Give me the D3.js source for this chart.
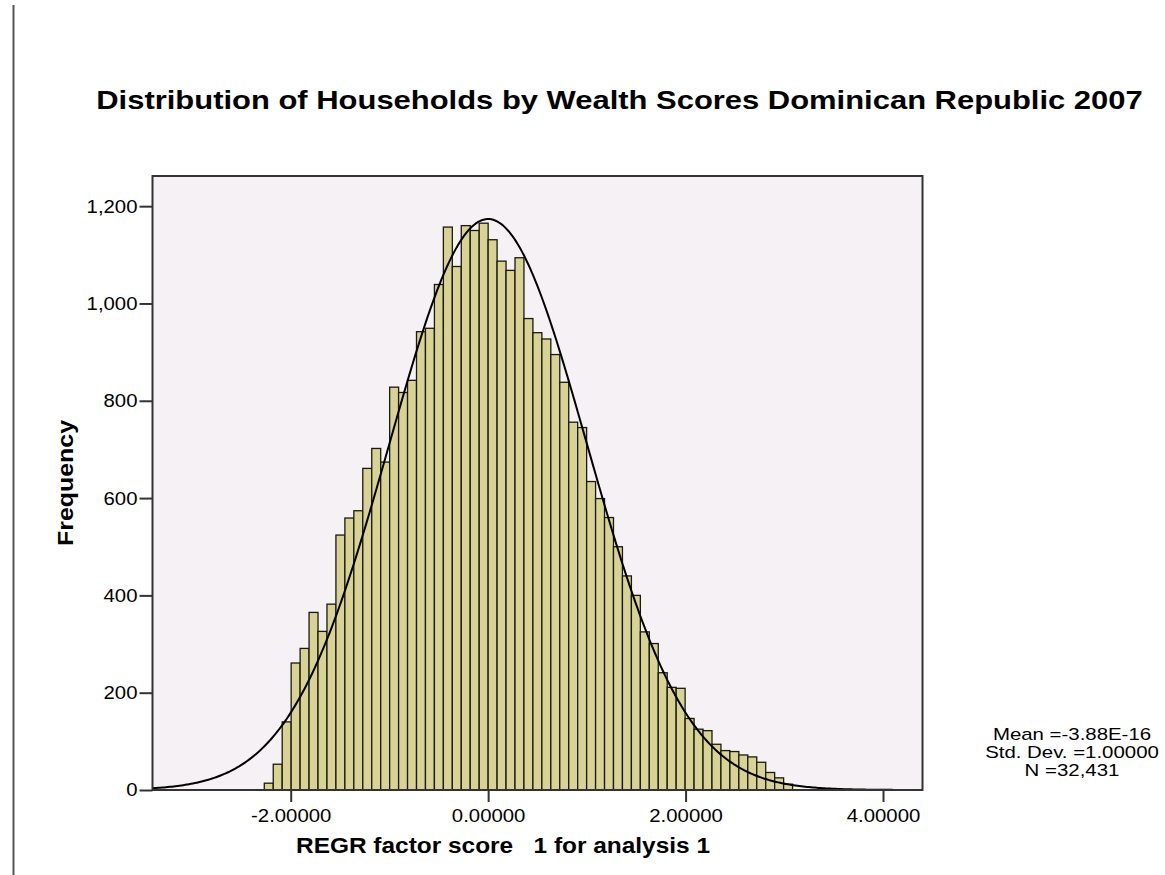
<!DOCTYPE html>
<html>
<head>
<meta charset="utf-8">
<script src="https://cdn.jsdelivr.net/npm/d3@7"></script>
<style>
  html, body { margin: 0; padding: 0; background: #ffffff; }
  svg { display: block; }
  text { font-family: "Liberation Sans", Arial, sans-serif; fill: #000; }
</style>
</head>
<body>
<svg id="chart" width="1165" height="875"></svg>
<script>
// ---- data ----
const binWidth = 0.0907;
const firstBinEdge = -25 * 0.0907;
const counts = [14, 53, 140, 261, 291, 365, 326, 382, 524, 559, 574, 661, 702, 674, 828, 817, 842, 942, 949, 1039, 1157, 1076, 1160, 1150, 1165,
                1131, 1087, 1068, 1094, 969, 940, 927, 895, 838, 756, 745, 634, 599, 560, 500, 440, 400, 325, 301, 241, 211, 209, 147, 125, 122, 94, 81, 79, 72, 68, 57, 36, 25, 12];
const yTicks = [0, 200, 400, 600, 800, 1000, 1200];
const xTicks = [-2, 0, 2, 4];
const statMean = -3.88e-16;
const statSD = 1.0;
const statN = 32431;
const legendLines = ["Mean =-3.88E-16", "Std. Dev. =1.00000", "N =32,431"];
const titleText = "Distribution of Households by Wealth Scores Dominican Republic 2007";
const xTitleText = "REGR factor score   1 for analysis 1";
const yTitleText = "Frequency";

// ---- layout ----
const plot = {left: 152.5, right: 922.5, top: 176, bottom: 790};
const svg = d3.select("#chart");

// widen text horizontally like the reference rendering
function stretch(sel, factor) {
  sel.each(function() {
    const w = this.getComputedTextLength();
    d3.select(this).attr("textLength", w * factor).attr("lengthAdjust", "spacingAndGlyphs");
  });
}

const x = d3.scaleLinear().domain([-3.4, 4.4]).range([plot.left, plot.right]);
const y = d3.scaleLinear().domain([0, 1262]).range([plot.bottom, plot.top]);

// left page rule
svg.append("line").attr("x1", 13.5).attr("x2", 13.5).attr("y1", 5).attr("y2", 875)
  .attr("stroke", "#555").attr("stroke-width", 2);

// title
const title = svg.append("text").attr("x", 619.5).attr("y", 109).attr("text-anchor", "middle")
  .style("font-weight", "bold").style("font-size", "26px").text(titleText);
stretch(title, 1.19);

// plot background
svg.append("rect").attr("x", plot.left).attr("y", plot.top)
  .attr("width", plot.right - plot.left).attr("height", plot.bottom - plot.top)
  .attr("fill", "#f5f1f5");

const bins = counts.map((c, i) => ({x0: firstBinEdge + i * binWidth, x1: firstBinEdge + (i + 1) * binWidth, c}));

svg.append("g").selectAll("rect").data(bins).join("rect")
  .attr("x", d => x(d.x0))
  .attr("width", d => x(d.x1) - x(d.x0))
  .attr("y", d => y(d.c))
  .attr("height", d => y(0) - y(d.c))
  .attr("fill", "#d8d294")
  .attr("stroke", "#1a1a10")
  .attr("stroke-width", 1.3);

// normal curve
const clipId = "plotclip";
svg.append("clipPath").attr("id", clipId).append("rect")
  .attr("x", plot.left).attr("y", plot.top)
  .attr("width", plot.right - plot.left).attr("height", plot.bottom - plot.top);
const pts = d3.range(0, 401).map(i => -3.4 + i * 7.8 / 400);
const dens = v => statN * binWidth / (statSD * Math.sqrt(2 * Math.PI)) * Math.exp(-0.5 * Math.pow((v - statMean) / statSD, 2));
svg.append("path").datum(pts)
  .attr("clip-path", `url(#${clipId})`)
  .attr("fill", "none").attr("stroke", "#000").attr("stroke-width", 2)
  .attr("d", d3.line().x(v => x(v)).y(v => y(dens(v))));

// frame
svg.append("rect").attr("x", plot.left).attr("y", plot.top)
  .attr("width", plot.right - plot.left).attr("height", plot.bottom - plot.top)
  .attr("fill", "none").attr("stroke", "#333").attr("stroke-width", 2);

// axes
const yAxis = d3.axisLeft(y).tickValues(yTicks).tickFormat(d3.format(",")).tickSize(13).tickPadding(2);
const gy = svg.append("g").attr("transform", `translate(${plot.left},0)`).call(yAxis);
const xAxis = d3.axisBottom(x).tickValues(xTicks)
  .tickFormat(d => d3.format(".5f")(d).replace("\u2212", "-")).tickSize(12).tickPadding(6.5);
const gx = svg.append("g").attr("transform", `translate(0,${plot.bottom})`).call(xAxis);
[gx, gy].forEach(g => {
  g.select(".domain").remove();
  g.selectAll(".tick line").attr("stroke", "#333").attr("stroke-width", 2);
  g.selectAll(".tick text").style("font-size", "18.5px").style("font-family", "'Liberation Sans', Arial, sans-serif").attr("fill", "#000");
  stretch(g.selectAll(".tick text"), 1.1);
});

// axis titles
const xt = svg.append("text").attr("x", 503).attr("y", 853).attr("text-anchor", "middle")
  .attr("xml:space", "preserve").style("white-space", "pre")
  .style("font-weight", "bold").style("font-size", "22px").text(xTitleText);
xt.attr("textLength", 414).attr("lengthAdjust", "spacingAndGlyphs");
const yt = svg.append("text").attr("transform", "translate(73,483) rotate(-90)").attr("text-anchor", "middle")
  .style("font-weight", "bold").style("font-size", "22px").text(yTitleText);
yt.attr("textLength", 126).attr("lengthAdjust", "spacingAndGlyphs");

// stats legend
const lg = svg.append("g").selectAll("text").data(legendLines).join("text")
  .attr("x", 1072).attr("y", (d, i) => 740 + i * 18).attr("text-anchor", "middle")
  .style("font-size", "17px").text(d => d);
stretch(lg, 1.2);
</script>
</body>
</html>
